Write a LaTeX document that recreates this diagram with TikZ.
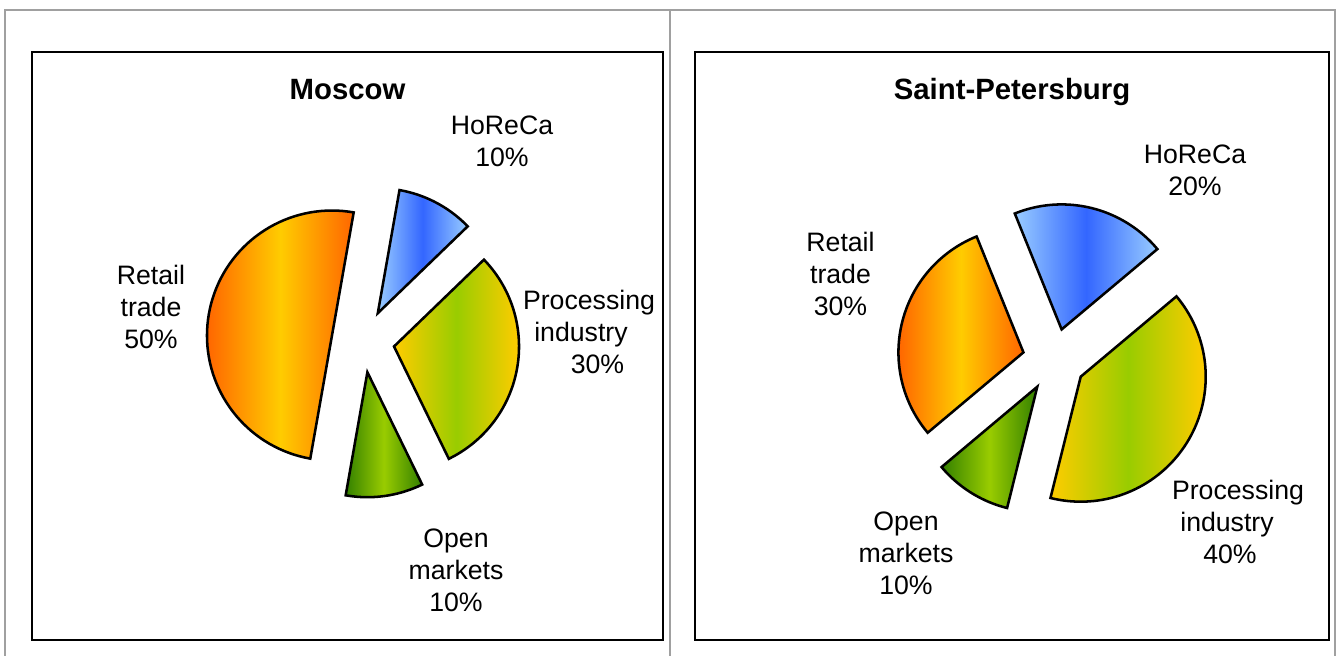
\documentclass[tikz,border=0pt]{standalone}
\usepackage{fontspec}
\setmainfont{Liberation Sans}
\definecolor{frameGray}{RGB}{160,160,160}
\definecolor{retEdge}{HTML}{FF6600}
\definecolor{retMid}{HTML}{FFCC00}
\definecolor{horEdge}{HTML}{99CCFF}
\definecolor{horMid}{HTML}{3366FF}
\definecolor{proEdge}{HTML}{FFCC00}
\definecolor{proMid}{HTML}{99CC00}
\definecolor{opnEdge}{RGB}{51,128,0}
\definecolor{opnMid}{HTML}{99CC00}
\newcommand\myslice[4]{%
  \pgfmathsetmacro\midang{(#2+#3)/2}%
  \path[slice,#4,shift={(#1)},shift={(\midang:31.5)}] (0,0) -- plot[domain=#2:#3,samples=73] (\x:125) -- cycle;%
}
\tikzset{
  slice/.style={draw=black,line width=1.9pt},
  retail/.style={left color=retEdge,right color=retEdge,middle color=retMid},
  horeca/.style={left color=horEdge,right color=horEdge,middle color=horMid},
  proc/.style={left color=proEdge,right color=proEdge,middle color=proMid},
  openm/.style={left color=opnEdge,right color=opnEdge,middle color=opnMid},
  lbl/.style={align=center,inner sep=0pt,font=\fontsize{20}{24}\selectfont},
  ttl/.style={anchor=base,inner sep=0pt,font=\fontsize{22}{26}\selectfont\bfseries},
  grayframe/.style={draw=frameGray,line width=1.5pt},
  chartbox/.style={draw=black,line width=1.7pt}
}
\begin{document}
\begin{tikzpicture}[x=0.75pt,y=0.75pt]
\useasboundingbox (0,0) rectangle (1341,656);
% outer table frame
\draw[grayframe] (5,-5) -- (5,646) -- (1335,646) -- (1335,-5);
\draw[grayframe] (670,646) -- (670,-5);
% chart boxes
\draw[chartbox] (32,16) rectangle (663,604);
\draw[chartbox] (695,16) rectangle (1329,604);
% Moscow
\coordinate (C1) at (363,315);
\myslice{C1}{80}{260}{retail}
\myslice{C1}{260}{296}{openm}
\myslice{C1}{296}{404}{proc}
\myslice{C1}{404}{440}{horeca}
\node[ttl] (mTitle) at (347.5,556) {Moscow};
\node[lbl] (mHoreca) at (502,514.5) {HoReCa\\10\%};
\node[lbl] (mRetail) at (151,349.4) {Retail\\trade\\50\%};
\node[lbl] (mProc) at (589,324) {Processing\\industry\makebox[12pt]{}\\\makebox[12.75pt]{}30\%};
\node[lbl] (mOpen) at (456,86) {Open\\markets\\10\%};
% Saint-Petersburg
\coordinate (C2) at (1054,296);
\myslice{C2}{40}{112}{horeca}
\myslice{C2}{112}{220}{retail}
\myslice{C2}{220}{256}{openm}
\myslice{C2}{256}{400}{proc}
\node[ttl] (sTitle) at (1012,556) {Saint-Petersburg};
\node[lbl] (sHoreca) at (1195,486) {HoReCa\\20\%};
\node[lbl] (sRetail) at (840.5,382) {Retail\\trade\\30\%};
\node[lbl] (sProc) at (1238,134) {Processing\\industry\makebox[16.5pt]{}\\40\%\makebox[12pt]{}};
\node[lbl] (sOpen) at (906,103) {Open\\markets\\10\%};
\end{tikzpicture}
\end{document}
